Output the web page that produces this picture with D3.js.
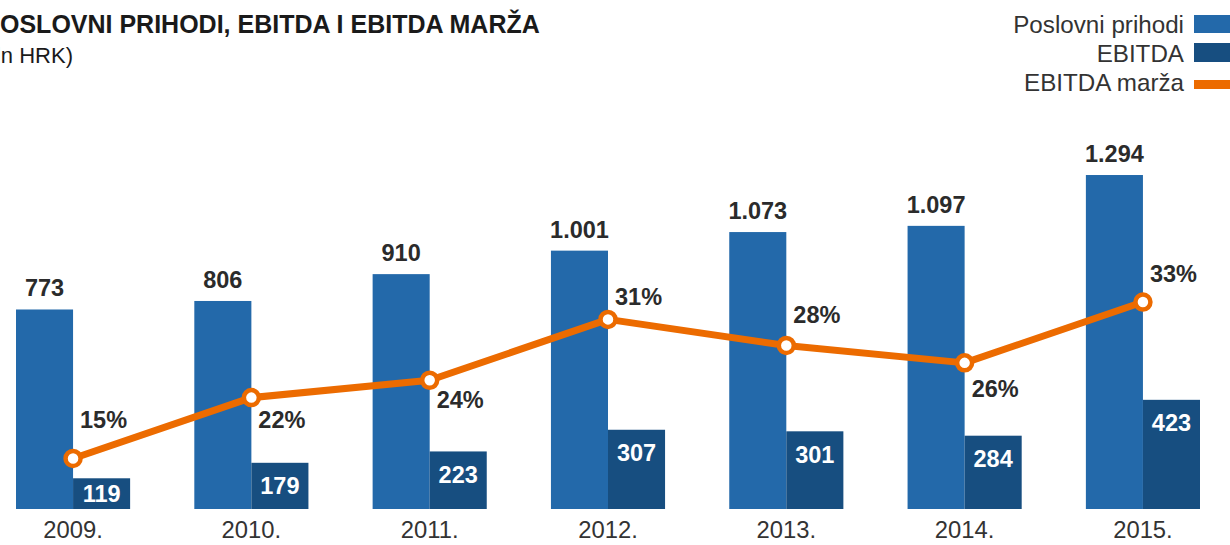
<!DOCTYPE html>
<html>
<head>
<meta charset="utf-8">
<script src="https://cdn.jsdelivr.net/npm/d3@7"></script>
<style>
  html, body { margin: 0; padding: 0; background: #fff; }
  svg { display: block; font-family: "Liberation Sans", Arial, Helvetica, sans-serif; }
</style>
</head>
<body>
<svg id="chart" width="1230" height="545"></svg>
<script>
// Operating revenue, EBITDA (HRK million) and EBITDA margin (%)
const years = ["2009.", "2010.", "2011.", "2012.", "2013.", "2014.", "2015."];
const revenue = [773, 806, 910, 1001, 1073, 1097, 1294];
const ebitda = [119, 179, 223, 307, 301, 284, 423];
const margin = [15, 22, 24, 31, 28, 26, 33];
const revenueLabels = ["773", "806", "910", "1.001", "1.073", "1.097", "1.294"];
const seriesNames = ["Poslovni prihodi", "EBITDA", "EBITDA marža"];

// vertical offset of each margin label's baseline from its point
const marginLabelDy = [-30, 30, 28, -14, -22, 34, -20];

const colors = { revenue: "#2369aa", ebitda: "#174e80", margin: "#ec6b00", text: "#2b2b2b", axis: "#333" };

const svg = d3.select("#chart");

const x0 = d3.scaleBand().domain(years).range([16, 1200]).paddingInner(0.36).paddingOuter(0);
const x1 = d3.scaleBand().domain(["revenue", "ebitda"]).range([0, x0.bandwidth()]).padding(0);
const y = d3.scaleLinear().domain([0, 1300]).range([509, 509 - 1300 * 0.2581]);
const yM = d3.scaleLinear().domain([0, 40]).range([588.8, 588.8 - 40 * 8.69]);

// Title
svg.append("text").attr("x", -16.7).attr("y", 33)
  .attr("font-size", 25).attr("font-weight", "bold").attr("fill", "#1a1a1a")
  .text("POSLOVNI PRIHODI, EBITDA I EBITDA MARŽA");
svg.append("text").attr("x", 73).attr("y", 63).attr("text-anchor", "end")
  .attr("font-size", 22).attr("fill", "#1a1a1a")
  .text("(u mln HRK)");

// Legend
const legend = svg.append("g");
const legendRows = [
  { name: seriesNames[0], y: 33, draw: g => g.append("rect").attr("x", 1194).attr("y", 15).attr("width", 36).attr("height", 18).attr("fill", colors.revenue) },
  { name: seriesNames[1], y: 62, draw: g => g.append("rect").attr("x", 1194).attr("y", 43).attr("width", 36).attr("height", 19).attr("fill", colors.ebitda) },
  { name: seriesNames[2], y: 91, draw: g => g.append("rect").attr("x", 1194).attr("y", 80).attr("width", 36).attr("height", 9).attr("fill", colors.margin) }
];
legendRows.forEach(r => {
  legend.append("text").attr("x", 1184).attr("y", r.y).attr("text-anchor", "end")
    .attr("font-size", 24.2).attr("fill", colors.axis).text(r.name);
  r.draw(legend);
});

// Bars
const groups = svg.append("g").selectAll("g").data(years).join("g")
  .attr("transform", d => `translate(${x0(d)},0)`);

groups.append("rect")
  .attr("x", x1("revenue")).attr("width", x1.bandwidth())
  .attr("y", (d, i) => y(revenue[i])).attr("height", (d, i) => y(0) - y(revenue[i]))
  .attr("fill", colors.revenue);

groups.append("rect")
  .attr("x", x1("ebitda")).attr("width", x1.bandwidth())
  .attr("y", (d, i) => y(ebitda[i])).attr("height", (d, i) => y(0) - y(ebitda[i]))
  .attr("fill", colors.ebitda);

// Revenue labels above bars
groups.append("text")
  .attr("x", x1("revenue") + x1.bandwidth() / 2)
  .attr("y", (d, i) => y(revenue[i]) - 13)
  .attr("text-anchor", "middle").attr("font-size", 23.5).attr("font-weight", "bold")
  .attr("fill", colors.text)
  .text((d, i) => revenueLabels[i]);

// EBITDA labels inside bars
groups.append("text")
  .attr("x", x1("ebitda") + x1.bandwidth() / 2)
  .attr("y", (d, i) => {
    const top = y(ebitda[i]);
    const center = Math.min(top + 23, (top + y(0)) / 2);
    return center + 8.5;
  })
  .attr("text-anchor", "middle").attr("font-size", 23.5).attr("font-weight", "bold")
  .attr("fill", "#fff")
  .text((d, i) => ebitda[i]);

// Year axis labels
svg.append("g").selectAll("text").data(years).join("text")
  .attr("x", d => x0(d) + x0.bandwidth() / 2)
  .attr("y", 538)
  .attr("text-anchor", "middle").attr("font-size", 23.8).attr("fill", colors.axis)
  .text(d => d);

// EBITDA margin line
const px = d => x0(d) + x0.bandwidth() / 2;
const line = d3.line().x((d, i) => px(years[i])).y(d => yM(d));
svg.append("path").datum(margin)
  .attr("d", line).attr("fill", "none")
  .attr("stroke", colors.margin).attr("stroke-width", 7).attr("stroke-linejoin", "round");

svg.append("g").selectAll("circle").data(margin).join("circle")
  .attr("cx", (d, i) => px(years[i])).attr("cy", d => yM(d))
  .attr("r", 7.5).attr("fill", "#fff")
  .attr("stroke", colors.margin).attr("stroke-width", 4.5);

svg.append("g").selectAll("text").data(margin).join("text")
  .attr("x", (d, i) => px(years[i]) + 7)
  .attr("y", (d, i) => yM(d) + marginLabelDy[i])
  .attr("font-size", 23.5).attr("font-weight", "bold").attr("fill", colors.text)
  .text(d => d + "%");
</script>
</body>
</html>
